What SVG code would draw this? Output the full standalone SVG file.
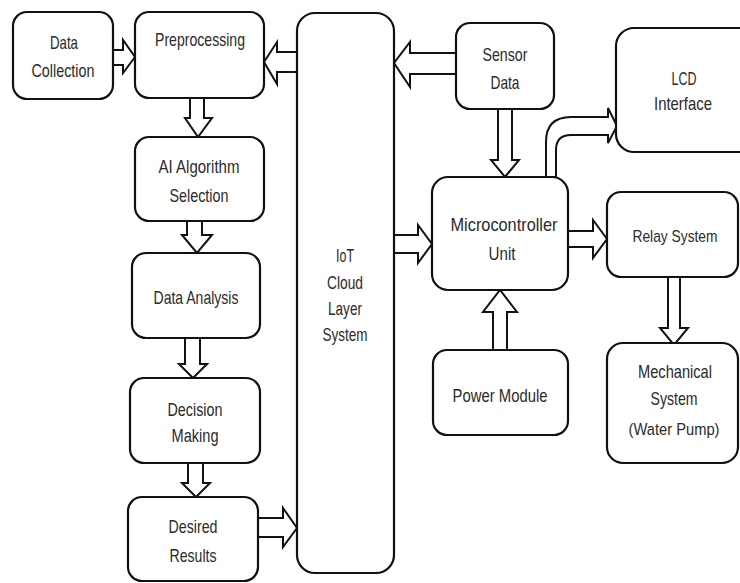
<svg xmlns="http://www.w3.org/2000/svg" width="740" height="583" viewBox="0 0 740 583">
  <style>
    .box { fill: #fff; stroke: #111; stroke-width: 2.2; }
    .arr { fill: #fff; stroke: #111; stroke-width: 2; stroke-linejoin: miter; }
    text { font-family: "Liberation Sans", Arial, sans-serif; font-size: 19px; fill: #2b2b2b; text-anchor: middle; }
    .sm { font-size: 17px; }
  </style>
  <rect width="740" height="583" fill="#fff"/>

  <!-- connectors (hollow block arrows) -->
  <g id="connectors">
    <!-- Data Collection -> Preprocessing -->
    <polygon class="arr" points="113,50 123,50 123,40 135,57 123,73 123,65 113,65"/>
    <!-- IoT Cloud -> Preprocessing -->
    <polygon class="arr" points="297,52 277,52 277,42 264,62 277,84 277,72 297,72"/>
    <!-- Sensor Data -> IoT Cloud -->
    <polygon class="arr" points="456,53 410,53 410,42 394,63 410,87 410,74 456,74"/>
    <!-- Preprocessing -> AI Algorithm Selection -->
    <polygon class="arr" points="190,98 204,98 204,118 212,118 198,137 185,118 190,118"/>
    <!-- AI Algorithm Selection -> Data Analysis -->
    <polygon class="arr" points="187,221 202,221 202,235 212,235 197,253 182,235 187,235"/>
    <!-- Data Analysis -> Decision Making -->
    <polygon class="arr" points="185,338 200,338 200,364 207,364 193,378 179,364 185,364"/>
    <!-- Decision Making -> Desired Results -->
    <polygon class="arr" points="188,463 203,463 203,483 210,483 196,497 182,483 188,483"/>
    <!-- Desired Results -> IoT Cloud -->
    <polygon class="arr" points="258,518 283,518 283,508 297,528 283,547 283,537 258,537"/>
    <!-- IoT Cloud -> Microcontroller -->
    <polygon class="arr" points="394,235 418,235 418,225 432,244 418,263 418,253 394,253"/>
    <!-- Sensor Data -> Microcontroller -->
    <polygon class="arr" points="498,109 512,109 512,160 519,160 505,177 491,160 498,160"/>
    <!-- Microcontroller -> LCD Interface (bent arrow) -->
    <path class="arr" d="M546,177 L546,142 Q546,117 571,117 L608,117 L608,108 L617,126 L608,143 L608,135 L571,135 Q556,135 556,150 L556,177 Z"/>
    <!-- Microcontroller -> Relay System -->
    <polygon class="arr" points="568,231 593,231 593,220 607,239 593,258 593,247 568,247"/>
    <!-- Power Module -> Microcontroller -->
    <polygon class="arr" points="493,350 493,312 483,312 500,290 517,312 507,312 507,350"/>
    <!-- Relay System -> Mechanical System -->
    <polygon class="arr" points="668,277 680,277 680,328 688,328 674,345 660,328 668,328"/>
  </g>

  <g id="data-collection">
    <rect class="box" x="13" y="12" width="100" height="87" rx="14"/>
    <text x="64" y="49" textLength="28" lengthAdjust="spacingAndGlyphs">Data</text>
    <text x="63" y="77" textLength="63" lengthAdjust="spacingAndGlyphs">Collection</text>
  </g>

  <g id="preprocessing">
    <rect class="box" x="135" y="12" width="129" height="86" rx="14"/>
    <text x="200" y="46" textLength="90" lengthAdjust="spacingAndGlyphs">Preprocessing</text>
  </g>

  <g id="ai-selection">
    <rect class="box" x="135" y="137" width="129" height="84" rx="14"/>
    <text x="199" y="173" textLength="81" lengthAdjust="spacingAndGlyphs">AI Algorithm</text>
    <text x="199" y="202" textLength="59" lengthAdjust="spacingAndGlyphs">Selection</text>
  </g>

  <g id="data-analysis">
    <rect class="box" x="132" y="253" width="128" height="85" rx="14"/>
    <text x="196" y="304" textLength="85" lengthAdjust="spacingAndGlyphs">Data Analysis</text>
  </g>

  <g id="decision-making">
    <rect class="box" x="130" y="378" width="130" height="85" rx="14"/>
    <text x="195" y="416" textLength="55" lengthAdjust="spacingAndGlyphs">Decision</text>
    <text x="195" y="442" textLength="47" lengthAdjust="spacingAndGlyphs">Making</text>
  </g>

  <g id="desired-results">
    <rect class="box" x="128" y="497" width="130" height="84" rx="14"/>
    <text x="193" y="533" textLength="49" lengthAdjust="spacingAndGlyphs">Desired</text>
    <text x="193" y="562" textLength="47" lengthAdjust="spacingAndGlyphs">Results</text>
  </g>

  <g id="iot-cloud">
    <rect class="box" x="297" y="13" width="97" height="560" rx="18"/>
    <text x="345" y="262" textLength="18" lengthAdjust="spacingAndGlyphs">IoT</text>
    <text x="345" y="289" textLength="36" lengthAdjust="spacingAndGlyphs">Cloud</text>
    <text x="345" y="315" textLength="34" lengthAdjust="spacingAndGlyphs">Layer</text>
    <text x="345" y="341" textLength="45" lengthAdjust="spacingAndGlyphs">System</text>
  </g>

  <g id="sensor-data">
    <rect class="box" x="456" y="23" width="98" height="86" rx="14"/>
    <text x="505" y="61" textLength="45" lengthAdjust="spacingAndGlyphs">Sensor</text>
    <text x="505" y="89" textLength="29" lengthAdjust="spacingAndGlyphs">Data</text>
  </g>

  <g id="lcd-interface">
    <rect class="box" x="616" y="28" width="150" height="124" rx="18"/>
    <text x="684" y="85" textLength="25" lengthAdjust="spacingAndGlyphs">LCD</text>
    <text x="683" y="110" textLength="58" lengthAdjust="spacingAndGlyphs">Interface</text>
  </g>

  <g id="microcontroller">
    <rect class="box" x="432" y="177" width="136" height="113" rx="16"/>
    <text x="504" y="231" textLength="107" lengthAdjust="spacingAndGlyphs">Microcontroller</text>
    <text x="502" y="260" textLength="27" lengthAdjust="spacingAndGlyphs">Unit</text>
  </g>

  <g id="relay-system">
    <rect class="box" x="607" y="192" width="131" height="85" rx="14"/>
    <text class="sm" x="675" y="242" textLength="85" lengthAdjust="spacingAndGlyphs">Relay System</text>
  </g>

  <g id="power-module">
    <rect class="box" x="433" y="350" width="135" height="85" rx="14"/>
    <text x="500" y="402" textLength="95" lengthAdjust="spacingAndGlyphs">Power Module</text>
  </g>

  <g id="mechanical-system">
    <rect class="box" x="607" y="343" width="131" height="120" rx="16"/>
    <text x="675" y="378" textLength="74" lengthAdjust="spacingAndGlyphs">Mechanical</text>
    <text x="674" y="405" textLength="47" lengthAdjust="spacingAndGlyphs">System</text>
    <text class="sm" x="674" y="435" textLength="91" lengthAdjust="spacingAndGlyphs">(Water Pump)</text>
  </g>
</svg>
